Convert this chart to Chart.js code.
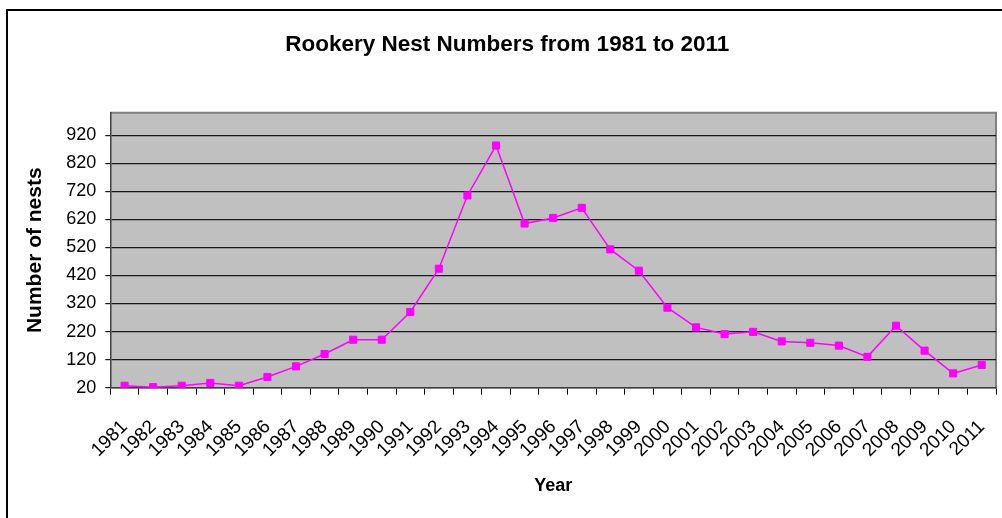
<!DOCTYPE html>
<html>
<head>
<meta charset="utf-8">
<script src="https://cdn.jsdelivr.net/npm/chart.js@4/dist/chart.umd.min.js"></script>
<style>
  html, body { margin: 0; padding: 0; background: #fff; overflow: hidden; }
  #wrap { position: relative; width: 1002px; height: 518px; overflow: hidden; }
  #frame { position: absolute; left: 6px; top: 9px; width: 1100px; height: 600px; border-left: 2px solid #000; border-top: 2px solid #000; }
  canvas { position: absolute; left: 0; top: 0; }
</style>
</head>
<body>
<div id="wrap">
  <div id="frame"></div>
  <canvas id="chart" width="1002" height="518"></canvas>
</div>
<script>
const years = ['1981', '1982', '1983', '1984', '1985', '1986', '1987', '1988', '1989', '1990',
  '1991', '1992', '1993', '1994', '1995', '1996', '1997', '1998', '1999', '2000',
  '2001', '2002', '2003', '2004', '2005', '2006', '2007', '2008', '2009', '2010', '2011'];
const nests = [27, 22, 27, 37, 27, 58, 96, 140, 191, 191,
  290, 444, 705, 883, 605, 625, 661, 513, 437, 305,
  235, 211, 219, 185, 180, 170, 130, 241, 152, 71, 101];
const yTicks = [20, 120, 220, 320, 420, 520, 620, 720, 820, 920];

Chart.defaults.font.family = "'Liberation Sans', Arial, sans-serif";
Chart.defaults.color = '#000';

// grey plot area like the spreadsheet chart
const plotBackground = {
  id: 'plotBackground',
  beforeDraw(chart) {
    const { ctx, chartArea: a } = chart;
    ctx.save();
    ctx.fillStyle = '#c0c0c0';
    ctx.fillRect(a.left, a.top, a.right - a.left, a.bottom - a.top);
    ctx.strokeStyle = '#808080';
    ctx.lineWidth = 2;
    ctx.beginPath();
    ctx.moveTo(a.left, a.top);
    ctx.lineTo(a.right, a.top);
    ctx.lineTo(a.right, a.bottom);
    ctx.stroke();
    ctx.restore();
  },
};

const chart = new Chart(document.getElementById('chart'), {
  type: 'line',
  data: {
    labels: years,
    datasets: [
      {
        label: 'Nests',
        data: nests,
        borderColor: '#ff00ff',
        backgroundColor: '#ff00ff',
        borderWidth: 1.5,

        pointStyle: 'rect',
        pointRadius: 5,
        pointBorderWidth: 1,

        tension: 0,
      },
    ],
  },
  plugins: [plotBackground],
  options: {
    responsive: false,
    animation: false,
    devicePixelRatio: 1,
    layout: { padding: { left: 17, right: 4.5, top: 0, bottom: 0 } },
    plugins: {
      legend: { display: false },
      tooltip: { enabled: false },
      title: {
        display: true,
        text: 'Rookery Nest Numbers from 1981 to 2011',
        font: { size: 22.5, weight: 'bold' },
        color: '#000',
        padding: { top: 31.5, bottom: 54.2 },
      },
    },
    scales: {
      x: {
        offset: true,
        grid: {
          offset: true,
          drawOnChartArea: false,
          drawTicks: true,
          tickLength: 7,
          color: '#000',
        },
        border: { color: '#404040', width: 1.5 },
        ticks: {
          autoSkip: false,
          maxRotation: 45,
          minRotation: 45,
          padding: 21,
          font: { size: 19 },
          color: '#000',
        },
        title: {
          display: true,
          text: 'Year',
          font: { size: 18, weight: 'bold' },
          color: '#000',
          padding: { top: 0, bottom: 21 },
        },
        afterFit: (scale) => {
          scale.height = 130.3;
          scale.paddingLeft = 0;
          scale.paddingRight = 0;
        },
      },
      y: {
        min: 20,
        max: 1000,
        grid: {
          color: '#1a1a1a',
          lineWidth: 1.2,
          tickLength: 5,
        },
        border: { color: '#404040', width: 1.5 },
        afterBuildTicks: (scale) => {
          scale.ticks = yTicks.map((v) => ({ value: v }));
        },
        ticks: {
          padding: 9,
          font: { size: 18 },
          color: '#000',
        },
        title: {
          display: true,
          text: 'Number of nests',
          font: { size: 21, weight: 'bold' },
          color: '#000',
          padding: { top: 5.4, bottom: 0 },
        },
        afterFit: (scale) => {
          scale.width = 93.3;
        },
      },
    },
  },
});
</script>
</body>
</html>
